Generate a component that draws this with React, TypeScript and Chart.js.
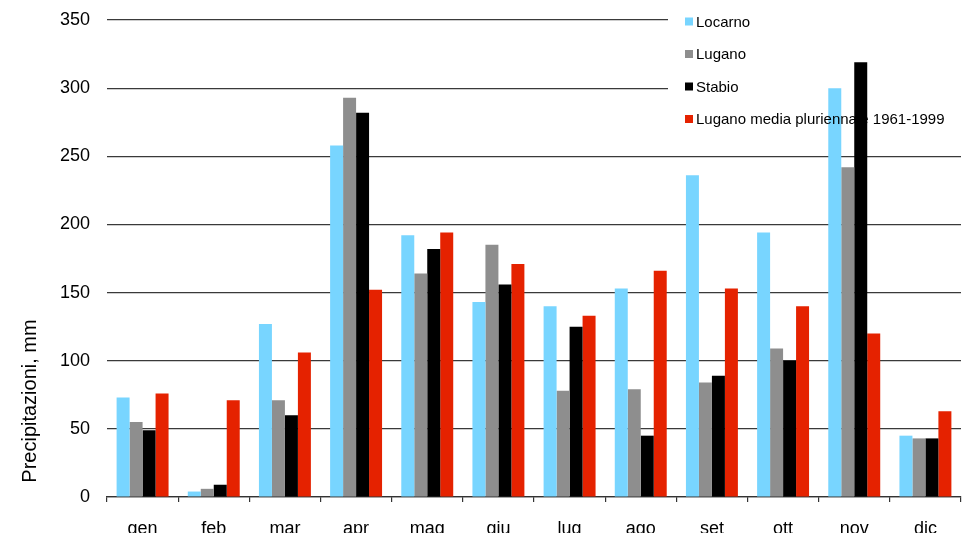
import React, { useEffect, useRef } from "react";
import { Chart, registerables } from "chart.js";

Chart.register(...registerables);

const months = ["gen", "feb", "mar", "apr", "mag", "giu", "lug", "ago", "set", "ott", "nov", "dic"];

const locarno = [73, 4, 127, 258, 192, 143, 140, 153, 236, 194, 300, 45];
const lugano = [55, 6, 71, 293, 164, 185, 78, 79, 84, 109, 242, 43];
const stabio = [49, 9, 60, 282, 182, 156, 125, 45, 89, 100, 319, 43];
const luganoMedia = [76, 71, 106, 152, 194, 171, 133, 166, 153, 140, 120, 63];

const seriesNames = ["Locarno", "Lugano", "Stabio", "Lugano media pluriennale 1961-1999"];
const seriesColors = ["#78D5FF", "#8E8E8E", "#000000", "#E52200"];

const yTitle = "Precipitazioni, mm";
const FONT = "'Liberation Sans', Arial, sans-serif";
const legendRows = [21.5, 54, 86.5, 119];

// White legend panel goes under the bars; swatches and names go on top
const legendPanel = {
  id: "legendPanel",
  beforeDatasetsDraw(chart: any) {
    const ctx = chart.ctx;
    ctx.save();
    ctx.fillStyle = "#ffffff";
    ctx.fillRect(668, 0, chart.width - 668, 140);
    ctx.restore();
  },
  afterDatasetsDraw(chart: any) {
    const ctx = chart.ctx;
    ctx.save();
    ctx.font = `15px ${FONT}`;
    ctx.textBaseline = "middle";
    ctx.textAlign = "left";
    seriesNames.forEach((name, i) => {
      ctx.fillStyle = seriesColors[i];
      ctx.fillRect(685, legendRows[i] - 4, 8, 8);
      ctx.fillStyle = "#000000";
      ctx.fillText(name, 696, legendRows[i] + 1);
    });
    ctx.restore();
  },
};

const yCaption = {
  id: "yCaption",
  afterDraw(chart: any) {
    const ctx = chart.ctx;
    ctx.save();
    ctx.translate(30, 401);
    ctx.rotate(-Math.PI / 2);
    ctx.font = `20px ${FONT}`;
    ctx.fillStyle = "#000000";
    ctx.textAlign = "center";
    ctx.textBaseline = "middle";
    ctx.fillText(yTitle, 0, 0);
    ctx.restore();
  },
};

export default function App() {
  const canvasRef = useRef<HTMLCanvasElement | null>(null);

  useEffect(() => {
    if (!canvasRef.current) return;
    const data = [locarno, lugano, stabio, luganoMedia];
    const chart = new Chart(canvasRef.current, {
      type: "bar",
      data: {
        labels: months,
        datasets: data.map((values, i) => ({
          label: seriesNames[i],
          data: values,
          backgroundColor: seriesColors[i],
          borderWidth: 0,
          categoryPercentage: 0.73,
          barPercentage: 1.0,
        })),
      },
      options: {
        animation: false,
        responsive: false,
        maintainAspectRatio: false,
        layout: { padding: { left: 0, right: 5, top: 20, bottom: 0 } },
        plugins: {
          legend: { display: false },
          tooltip: { enabled: false },
        },
        scales: {
          x: {
            grid: {
              display: true,
              drawOnChartArea: false,
              drawTicks: true,
              tickLength: 5,
              color: "#333333",
              lineWidth: 1.2,
            },
            border: { display: true, color: "#333333", width: 1.3 },
            ticks: {
              color: "#000000",
              font: { family: FONT, size: 18 },
              padding: 16,
              maxRotation: 0,
            },
            afterFit(scale: any) {
              scale.height = 36;
            },
          },
          y: {
            min: 0,
            max: 350,
            grid: {
              color: "#3a3a3a",
              lineWidth: 1.2,
              drawTicks: false,
            },
            border: { display: false },
            ticks: {
              stepSize: 50,
              color: "#000000",
              font: { family: FONT, size: 18 },
              padding: 17,
            },
            afterFit(scale: any) {
              scale.width = 107;
              scale.paddingTop = 0;
              scale.paddingBottom = 0;
            },
          },
        },
      },
      plugins: [legendPanel, yCaption],
    });
    return () => chart.destroy();
  }, []);

  return (
    <div style={{ position: "fixed", left: 0, top: 0, width: 966, height: 533, background: "#fff" }}>
      <canvas ref={canvasRef} width={966} height={533} style={{ display: "block" }} />
    </div>
  );
}
